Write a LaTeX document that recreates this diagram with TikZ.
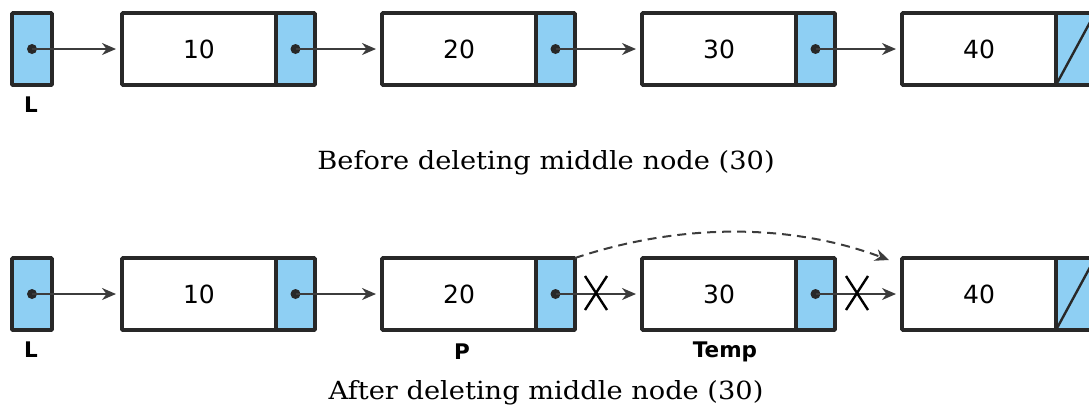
\documentclass[tikz,border=0pt]{standalone}
\usepackage{fontspec}
\usetikzlibrary{arrows.meta}
\newfontfamily\numfont{DejaVu Sans}
\newfontfamily\capfont{DejaVu Serif}
\definecolor{cellblue}{RGB}{142,207,243}
\definecolor{edge}{RGB}{40,40,40}
\definecolor{wire}{RGB}{60,60,60}
\tikzset{
  cell/.style={draw=edge, line width=3.6pt, minimum width=154pt, minimum height=72pt,
    inner sep=0pt, outer sep=0pt, rounded corners=0.8pt,
    font=\numfont\fontsize{25}{25}\selectfont},
  ptrcell/.style={cell, fill=cellblue, minimum width=39pt},
  link/.style={draw=wire, line width=2pt,
    -{Stealth[length=14pt, width=12pt, inset=4.5pt]}},
  dashlink/.style={link, dash pattern=on 9pt off 6pt},
  varlabel/.style={font=\numfont\bfseries\fontsize{21.5}{21.5}\selectfont, text=black, inner sep=0pt},
  caption/.style={font=\capfont\fontsize{25}{25}\selectfont, text=black, inner sep=0pt, anchor=base},
  cross/.style={line width=2.4pt, draw=black},
}
\begin{document}
\begin{tikzpicture}[x=1pt, y=-1pt]
\useasboundingbox (0,0) rectangle (1089,408);
\clip (0,0) rectangle (1089,408);

% ---------- list before deletion ----------
\node[ptrcell, anchor=north west, minimum width=40pt] (La) at (12,13) {};
\node[cell, anchor=north west] (a1) at (122,13) {10};
\node[ptrcell, anchor=west] (pa1) at (a1.east) {};
\node[cell, anchor=north west] (a2) at (382,13) {20};
\node[ptrcell, anchor=west] (pa2) at (a2.east) {};
\node[cell, anchor=north west] (a3) at (642,13) {30};
\node[ptrcell, anchor=west] (pa3) at (a3.east) {};
\node[cell, anchor=north west] (a4) at (902,13) {40};
\node[ptrcell, anchor=west] (pa4) at (a4.east) {};
\draw[edge, line width=2.4pt] (pa4.south west) -- (pa4.north east);

\foreach \p in {La, pa1, pa2, pa3} \fill[edge] (\p.center) circle (5pt);
\draw[link] (La.center) -- ([xshift=-6pt]a1.west);
\draw[link] (pa1.center) -- ([xshift=-6pt]a2.west);
\draw[link] (pa2.center) -- ([xshift=-6pt]a3.west);
\draw[link] (pa3.center) -- ([xshift=-6pt]a4.west);

\node[varlabel] (La-name) at (31,105) {L};
\node[caption] (cap-before) at (546,169) {\scalebox{1.09}[1]{Before deleting middle node (30)}};

% ---------- list after deletion ----------
\node[ptrcell, anchor=north west, minimum width=40pt] (Lb) at (12,258) {};
\node[cell, anchor=north west] (b1) at (122,258) {10};
\node[ptrcell, anchor=west] (pb1) at (b1.east) {};
\node[cell, anchor=north west] (b2) at (382,258) {20};
\node[ptrcell, anchor=west] (pb2) at (b2.east) {};
\node[cell, anchor=north west] (b3) at (642,258) {30};
\node[ptrcell, anchor=west] (pb3) at (b3.east) {};
\node[cell, anchor=north west] (b4) at (902,258) {40};
\node[ptrcell, anchor=west] (pb4) at (b4.east) {};
\draw[edge, line width=2.4pt] (pb4.south west) -- (pb4.north east);

\foreach \p in {Lb, pb1, pb2, pb3} \fill[edge] (\p.center) circle (5pt);
\draw[link] (Lb.center) -- ([xshift=-6pt]b1.west);
\draw[link] (pb1.center) -- ([xshift=-6pt]b2.west);
\draw[link] (pb2.center) -- ([xshift=-6pt]b3.west);
\draw[link] (pb3.center) -- ([xshift=-6pt]b4.west);

% links that are cut
\coordinate (x1) at (596,293);
\coordinate (x2) at (857,293);
\foreach \c in {x1, x2} {
  \draw[cross] ([shift={(-11,-17)}]\c) -- ([shift={(11,17)}]\c);
  \draw[cross] ([shift={(-11,17)}]\c) -- ([shift={(11,-17)}]\c);
}

% new link from P to the node after Temp
\coordinate (bypass-end) at ([shift={(-13,2)}]b4.north west);
\draw[dashlink] (pb2.north east) .. controls (680,223) and (790,223) .. (bypass-end);

\node[varlabel] (Lb-name) at (31,350) {L};
\node[varlabel] (P-name) at (462,352) {P};
\node[varlabel] (Temp-name) at (725,352) {Temp};
\node[caption] (cap-after) at (546,399) {\scalebox{1.09}[1]{After deleting middle node (30)}};
\end{tikzpicture}
\end{document}
